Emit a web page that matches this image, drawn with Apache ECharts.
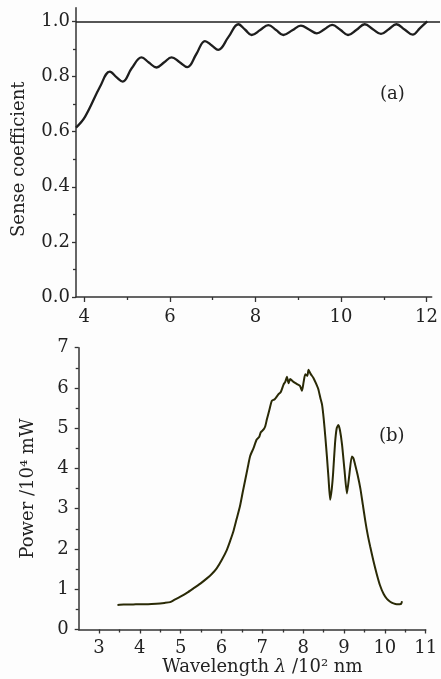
<!DOCTYPE html>
<html>
<head>
<meta charset="utf-8">
<script src="https://cdn.jsdelivr.net/npm/echarts@6/dist/echarts.min.js"></script>
<style>
html,body{margin:0;padding:0;background:#fdfdfd;}
#c{width:441px;height:679px;}
</style>
</head>
<body>
<div id="c"></div>
<script>
// (a) Sense coefficient vs wavelength (10^2 nm)
const senseWavelength = [3.80,4.01,4.36,4.59,4.75,4.89,5.10,5.33,5.50,5.68,5.86,6.03,6.22,6.40,6.61,6.81,6.97,7.12,7.36,7.59,7.75,7.90,8.10,8.29,8.47,8.64,8.85,9.05,9.24,9.42,9.60,9.78,9.97,10.15,10.35,10.54,10.73,10.92,11.10,11.28,11.47,11.66,11.83,12.00];
const senseValue      = [0.615,0.654,0.763,0.818,0.797,0.782,0.830,0.870,0.851,0.833,0.852,0.870,0.852,0.834,0.882,0.929,0.913,0.897,0.944,0.990,0.970,0.951,0.969,0.987,0.969,0.951,0.968,0.985,0.971,0.957,0.972,0.988,0.970,0.951,0.970,0.990,0.972,0.955,0.972,0.990,0.971,0.952,0.976,1.000];
const senseRef = 1.0;

// (b) Power (10^4 mW) vs wavelength (10^2 nm)
const powerWavelength = [3.45,3.6,3.8,4.0,4.2,4.4,4.6,4.74,4.85,4.98,5.15,5.31,5.48,5.64,5.76,5.88,6.0,6.13,6.21,6.29,6.37,6.45,6.52,6.58,6.64,6.70,6.78,6.86,6.92,6.96,7.03,7.07,7.11,7.17,7.23,7.3,7.39,7.45,7.52,7.56,7.60,7.64,7.68,7.76,7.84,7.92,7.97,8.01,8.05,8.1,8.13,8.18,8.25,8.31,8.37,8.42,8.46,8.50,8.54,8.58,8.62,8.66,8.70,8.73,8.78,8.82,8.86,8.90,8.95,9.01,9.07,9.13,9.19,9.23,9.27,9.33,9.40,9.46,9.52,9.58,9.64,9.72,9.80,9.88,9.97,10.05,10.13,10.21,10.29,10.36,10.40,10.42];
const powerValue      = [0.61,0.62,0.62,0.63,0.63,0.64,0.66,0.68,0.74,0.81,0.91,1.02,1.14,1.27,1.38,1.52,1.72,1.98,2.2,2.44,2.75,3.06,3.42,3.72,4.02,4.31,4.5,4.72,4.78,4.9,4.97,5.05,5.22,5.45,5.68,5.72,5.84,5.9,6.09,6.15,6.28,6.12,6.22,6.15,6.1,6.05,5.93,6.15,6.34,6.3,6.45,6.35,6.25,6.12,5.97,5.75,5.59,5.25,4.80,4.3,3.75,3.22,3.5,3.85,4.64,5.0,5.08,4.95,4.6,3.97,3.38,3.85,4.3,4.25,4.1,3.85,3.5,3.1,2.7,2.35,2.06,1.7,1.38,1.1,0.88,0.76,0.69,0.65,0.63,0.63,0.64,0.70];

const topXTicks = [4, 12, 2];      // min, max, interval
const topYTicks = [0, 1.0, 0.2];
const botXTicks = [3, 11, 1];
const botYTicks = [0, 7, 1];

const FONT = 'DejaVu Serif';
const INK = '#222';
const AX = '#333';

const senseData = senseWavelength.map((x,i)=>[x, senseValue[i]]);
const powerData = powerWavelength.map((x,i)=>[x, powerValue[i]]);

const lab = {fontFamily: FONT, fontSize: 18, color: INK};
const hidden = {show:false};

const chart = echarts.init(document.getElementById('c'), null, {renderer:'canvas'});
chart.setOption({
  backgroundColor: '#fdfdfd',
  animation: false,
  grid: [
    {left:76, top:7.7, width:364, height:289.3},      // 0: top series
    {left:84.3, top:21.5, width:342.7, height:275.5}, // 1: top x ticks
    {left:76, top:21.5, width:355.7, height:275.5},   // 2: top y ticks + x line
    {left:78.7, top:347.7, width:347, height:281.8},  // 3: bottom series + y ticks
    {left:99, top:347.7, width:326.7, height:281.8}   // 4: bottom x ticks
  ],
  xAxis: [
    {gridIndex:0, type:'value', min:3.8, max:12.297, show:false},
    {gridIndex:1, type:'value', min:topXTicks[0], max:topXTicks[1], interval:topXTicks[2],
      axisLine:{show:false}, splitLine:{show:false},
      axisTick:{show:true, length:5, lineStyle:{color:AX, width:1.3}},
      minorTick:{show:true, splitNumber:2, length:3, lineStyle:{color:AX, width:1.3}},
      axisLabel:Object.assign({margin:11}, lab)},
    {gridIndex:2, type:'value', min:0, max:1,
      axisLine:{show:true, lineStyle:{color:AX, width:1.5}},
      axisTick:hidden, axisLabel:hidden, splitLine:hidden},
    {gridIndex:3, type:'value', min:2.5, max:11,
      axisLine:{show:true, lineStyle:{color:AX, width:1.5}},
      axisTick:hidden, axisLabel:hidden, splitLine:hidden},
    {gridIndex:4, type:'value', min:botXTicks[0], max:botXTicks[1], interval:botXTicks[2],
      axisLine:{show:false}, splitLine:{show:false},
      axisTick:{show:true, length:4, lineStyle:{color:AX, width:1.3}},
      minorTick:{show:true, splitNumber:2, length:3, lineStyle:{color:AX, width:1.3}},
      axisLabel:Object.assign({margin:10}, lab),
      name:'Wavelength {i|λ} /10² nm', nameLocation:'middle', nameGap:29,
      nameTextStyle:Object.assign({rich:{i:{fontFamily:FONT, fontSize:18, fontStyle:'italic', color:INK}}}, lab)}
  ],
  yAxis: [
    {gridIndex:0, type:'value', min:0, max:1.05,
      axisLine:{show:true, lineStyle:{color:AX, width:1.5}},
      axisTick:hidden, axisLabel:hidden, splitLine:hidden},
    {gridIndex:1, type:'value', min:0, max:1, show:false},
    {gridIndex:2, type:'value', min:topYTicks[0], max:topYTicks[1], interval:topYTicks[2],
      axisLine:{show:false}, splitLine:{show:false},
      axisTick:{show:true, length:4, lineStyle:{color:AX, width:1.3}},
      minorTick:{show:true, splitNumber:2, length:3, lineStyle:{color:AX, width:1.3}},
      axisLabel:Object.assign({margin:6, formatter:v=>v.toFixed(1)}, lab),
      name:'Sense coefficient', nameLocation:'middle', nameGap:48, nameTextStyle:lab},
    {gridIndex:3, type:'value', min:botYTicks[0], max:botYTicks[1], interval:botYTicks[2],
      axisLine:{show:true, lineStyle:{color:AX, width:1.5}}, splitLine:{show:false},
      axisTick:{show:true, length:4, lineStyle:{color:AX, width:1.3}},
      minorTick:{show:true, splitNumber:2, length:3, lineStyle:{color:AX, width:1.3}},
      axisLabel:Object.assign({margin:10}, lab),
      name:'Power /10⁴ mW', nameLocation:'middle', nameGap:41, nameTextStyle:lab},
    {gridIndex:4, type:'value', min:0, max:7, show:false}
  ],
  series: [
    {type:'line', xAxisIndex:0, yAxisIndex:0, data:senseData, smooth:0.4, showSymbol:false, clip:false,
      lineStyle:{color:'#1e1e1e', width:2.3},
      markLine:{silent:true, symbol:'none', label:{show:false},
        lineStyle:{type:'solid', color:'#1e1e1e', width:1.5}, data:[{yAxis:senseRef}]}},
    {type:'line', xAxisIndex:3, yAxisIndex:3, data:powerData, smooth:0.2, showSymbol:false,
      lineStyle:{color:'#2a2a06', width:2}}
  ],
  graphic: [
    {type:'text', left:380, top:85, style:{text:'(a)', font:'18px "DejaVu Serif"', fill:INK}},
    {type:'text', left:379, top:427, style:{text:'(b)', font:'18px "DejaVu Serif"', fill:INK}}
  ]
});
</script>
</body>
</html>
